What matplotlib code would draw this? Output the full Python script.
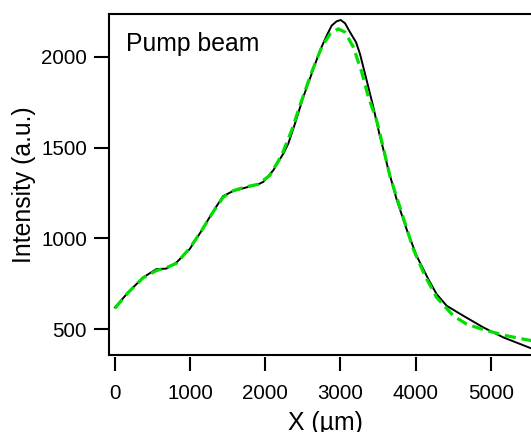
import matplotlib
matplotlib.use('Agg')
import matplotlib.pyplot as plt

# measured beam profile (black)
x_data = [0, 173, 373, 550, 683, 816, 993, 1149, 1282, 1437, 1570, 1726, 1903,
          1974, 2107, 2240, 2306, 2395, 2506, 2617, 2728, 2817, 2883, 2950,
          3003, 3061, 3127, 3207, 3260, 3349, 3437, 3517, 3571, 3637, 3748,
          3881, 4014, 4169, 4280, 4414, 4635, 4901, 5167, 5536, 5700]
y_data = [619, 701, 784, 830, 833, 866, 940, 1040, 1132, 1232, 1260, 1278, 1297,
          1311, 1375, 1467, 1522, 1632, 1779, 1907, 2035, 2117, 2172, 2196,
          2203, 2185, 2136, 2081, 2016, 1870, 1724, 1577, 1489, 1379, 1214,
          1049, 903, 775, 692, 628, 573, 509, 454, 394, 372]

# fit (green dashed)
x_fit = [0, 173, 373, 550, 683, 816, 993, 1149, 1282, 1437, 1570, 1726, 1907,
         2063, 2218, 2351, 2484, 2617, 2750, 2861, 2972, 3061, 3172, 3283,
         3371, 3482, 3570, 3659, 3815, 3970, 4125, 4280, 4502, 4680, 4946,
         5212, 5478, 5700]
y_fit = [615, 700, 782, 822, 838, 862, 945, 1040, 1130, 1225, 1262, 1282, 1298,
         1348, 1458, 1595, 1760, 1916, 2053, 2126, 2154, 2136, 2053, 1916,
         1779, 1650, 1500, 1342, 1141, 940, 793, 674, 573, 527, 491,
         463, 441, 425]

x_ticks = [0, 1000, 2000, 3000, 4000, 5000]
y_ticks = [500, 1000, 1500, 2000]

plt.rcParams['font.family'] = ['Liberation Sans', 'DejaVu Sans']

W, H = 531, 432
fig = plt.figure(figsize=(W / 100, H / 100), dpi=100)
left, right, top, bottom = 109, 540, 14, 355
ax = fig.add_axes([left / W, 1 - bottom / H, (right - left) / W, (bottom - top) / H])

ax.plot(x_data, y_data, color='black', lw=1.4)
ax.plot(x_fit, y_fit, color='#00e000', lw=2.3, ls=(0, (3.5, 1.8)))

# 0 sits at 115 px, 75.15 px per 1000
ax.set_xlim((left - 115) / 0.07515, (right - 115) / 0.07515)
ax.set_ylim(357, 2236)
ax.set_xticks(x_ticks)
ax.set_yticks(y_ticks)

for s in ax.spines.values():
    s.set_linewidth(1.5)
# bottom axis sits just below the frame
ax.spines['bottom'].set_position(('outward', 1.5))
ax.spines['bottom'].set_visible(False)
ax.plot([0, 1], [0, 0], transform=ax.transAxes, color='black', lw=1.5,
        clip_on=False, solid_capstyle='projecting')

ax.tick_params(axis='x', direction='out', length=10, width=1.5, pad=9.5, labelsize=14.8)
ax.tick_params(axis='y', direction='out', length=10.8, width=1.5, pad=5, labelsize=14.8)

ax.set_xlabel('X (µm)', fontsize=17.8)
ax.set_ylabel('Intensity (a.u.)', fontsize=17.8)
ax.xaxis.set_label_coords((325 - left) / (right - left), (bottom - 411) / (bottom - top))
ax.yaxis.set_label_coords((36 - left) / (right - left), 0.5)

fig.text(126 / W, 1 - 50.7 / H, 'Pump beam', fontsize=17.8, va='baseline', ha='left')

fig.savefig('out.png', dpi=100)
